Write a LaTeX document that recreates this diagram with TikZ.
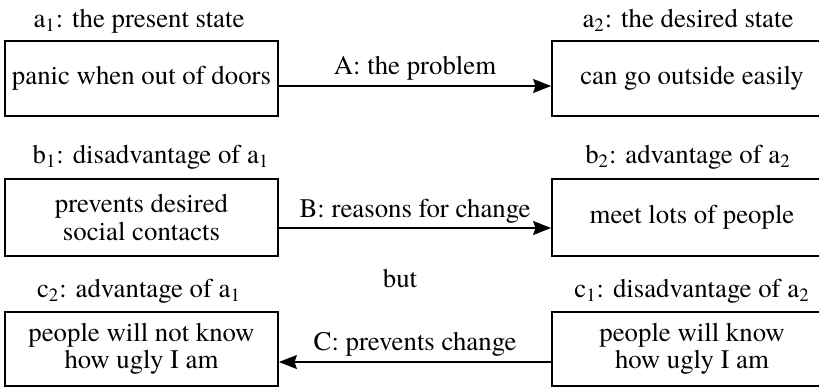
\documentclass[tikz,border=0pt]{standalone}
\usepackage{fontspec}
\setmainfont{TeX Gyre Termes}
\usetikzlibrary{arrows.meta}
\begin{document}
\begin{tikzpicture}[x=0.5pt,y=-0.5pt,
  every node/.style={font=\fontsize{13.4}{13.6}\selectfont, inner sep=0pt},
  stbox/.style={draw, line width=0.9pt, align=center, minimum height=#1},
  leftbox/.style={stbox=#1, minimum width=136.5pt},
  rightbox/.style={stbox=#1, minimum width=140pt},
  ttl/.style={anchor=base},
  conn/.style={line width=0.75pt, -{Stealth[length=9pt,width=7pt,inset=1.2pt]}},
  lbl/.style={anchor=base}]
\useasboundingbox (0,0) rectangle (819,387);
% row a
\node[ttl] (ta1) at (139,27) {a\textsubscript{1}: the present state};
\node[ttl] (ta2) at (688,27) {a\textsubscript{2}: the desired state};
\node[leftbox=37.5pt] (a1) at (141.5,78.5) {panic when out of doors};
\node[rightbox=37.5pt] (a2) at (692,78.5) {can go outside easily};
\draw[conn] ([yshift=-3.75pt]a1.east) -- node[lbl, yshift=6pt] (la) {A: the problem} ([yshift=-3.75pt]a2.west);
% row b
\node[ttl] (tb1) at (151,163) {b\textsubscript{1}: disadvantage of a\textsubscript{1}};
\node[ttl] (tb2) at (688,163) {b\textsubscript{2}: advantage of a\textsubscript{2}};
\node[leftbox=38.5pt] (b1) at (141.5,217.5) {prevents desired\\social contacts};
\node[rightbox=38.5pt] (b2) at (692,217.5) {meet lots of people};
\draw[conn] ([yshift=-5.25pt]b1.east) -- node[lbl, yshift=5.5pt] (lb) {B: reasons for change} ([yshift=-5.25pt]b2.west);
% but
\node[ttl] (but) at (400,287) {but};
% row c
\node[ttl] (tc2) at (139,297) {c\textsubscript{2}: advantage of a\textsubscript{1}};
\node[ttl] (tc1) at (692,297) {c\textsubscript{1}: disadvantage of a\textsubscript{2}};
\node[leftbox=37pt] (c2) at (141.5,349) {people will not know\\how ugly I am};
\node[rightbox=37pt] (c1) at (692,349) {people will know\\how ugly I am};
\draw[conn] ([yshift=-6.5pt]c1.west) -- node[lbl, yshift=6pt] (lc) {C: prevents change} ([yshift=-6.5pt]c2.east);
\end{tikzpicture}
\end{document}
